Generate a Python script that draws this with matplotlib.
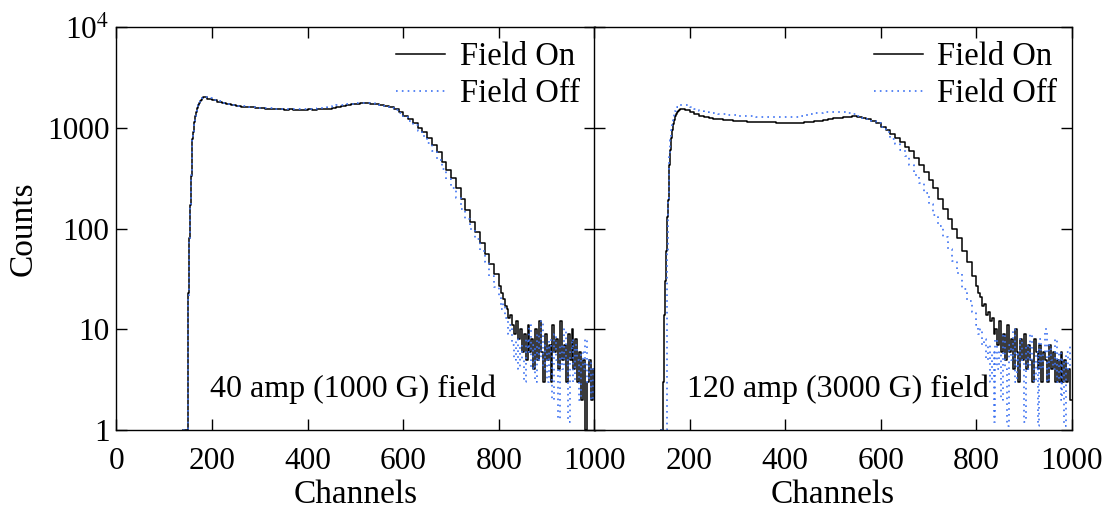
import numpy as np
import matplotlib
matplotlib.use("Agg")
import matplotlib.pyplot as plt
from matplotlib.ticker import FixedLocator, FixedFormatter, NullLocator

plt.rcParams['font.family'] = ['Liberation Serif', 'DejaVu Serif']
plt.rcParams['mathtext.fontset'] = 'stix'

# channel grid (bin starts), shared by every series
chan = np.concatenate([[140], np.arange(143, 160), np.arange(160, 180, 2),
                       np.arange(180, 800, 10), np.arange(800, 1001, 4)])

# ---- 40 amp panel ----
left_on = [1,
    1, 1, 1, 1, 1, 1, 1, 23, 45, 80, 113, 170, 240, 330, 450, 600, 780,
    900, 1150, 1300, 1450, 1580, 1680, 1760, 1840, 1900, 1960,
    2000, 1930, 1880, 1800, 1770, 1710, 1690, 1630, 1620, 1590,
    1590, 1560, 1565, 1540, 1545, 1520, 1530, 1510, 1525, 1500,
    1515, 1505, 1520, 1510, 1530, 1520, 1550, 1565, 1615, 1630,
    1685, 1710, 1735, 1750, 1755, 1740, 1725, 1700, 1650, 1600,
    1520, 1420, 1320, 1220, 1120, 1000, 900, 790, 680, 570,
    460, 380, 315, 250, 195, 152, 117, 92, 72, 56,
    44, 35,
    27, 23, 20, 17, 16, 13, 14, 11, 9, 12, 8, 10, 6, 9, 5, 11, 6, 8, 4, 10,
    5, 12, 6, 3, 9, 5, 7, 3, 11, 6, 8, 4, 12, 5, 7, 3, 9, 5, 10, 4,
    8, 3, 6, 2, 5, 1, 3, 5, 2, 4, 4]
left_off = [1,
    1, 1, 1, 1, 1, 1, 1, 20, 42, 78, 115, 175, 250, 340, 460, 610, 790,
    900, 1150, 1320, 1480, 1600, 1700, 1790, 1860, 1920, 1980,
    2020, 1960, 1900, 1830, 1780, 1730, 1700, 1660, 1630, 1610,
    1600, 1580, 1575, 1560, 1555, 1550, 1540, 1535, 1530, 1530,
    1525, 1530, 1540, 1545, 1555, 1570, 1600, 1640, 1670, 1690,
    1710, 1740, 1760, 1780, 1770, 1750, 1720, 1690, 1640, 1580,
    1500, 1400, 1290, 1180, 1060, 930, 820, 700, 590, 480,
    390, 310, 250, 200, 158, 125, 100, 78, 60, 46,
    34, 26,
    21, 16, 18, 13, 12, 9, 11, 7, 5, 8, 4, 7, 5, 3, 8, 6, 11, 4, 7, 3,
    9, 5, 12, 4, 7, 3, 8, 6, 2, 9, 5, 1.3, 7, 4, 10, 5, 1.2, 6, 8, 3,
    7, 5, 2, 6, 4, 8, 3, 5, 2, 4, 4]

# ---- 120 amp panel ----
right_on = [1,
    1, 2, 3, 8, 14, 22, 30, 36, 60, 100, 130, 160, 192, 260, 340, 430, 520,
    600, 800, 950, 1080, 1200, 1300, 1380, 1440, 1480, 1510,
    1520, 1510, 1440, 1360, 1300, 1270, 1250, 1230, 1215, 1200,
    1190, 1180, 1170, 1160, 1150, 1150, 1145, 1140, 1135, 1130,
    1125, 1125, 1120, 1125, 1125, 1125, 1140, 1150, 1165, 1180,
    1200, 1220, 1240, 1255, 1270, 1290, 1305, 1290, 1250, 1210,
    1160, 1110, 1020, 950, 870, 800, 730, 650, 585, 500,
    430, 360, 305, 250, 195, 155, 125, 100, 80, 60,
    46, 34,
    27, 23, 21, 17, 18, 14, 15, 12, 13, 9, 10, 7, 12, 6, 9, 5, 11, 6, 8, 4,
    10, 6, 3, 8, 5, 9, 4, 7, 5, 3, 8, 6, 4, 7, 3, 6, 5, 3, 7, 4,
    6, 3, 5, 3, 6, 3, 5, 3, 4, 2, 2]
right_off = [1,
    1, 1, 1, 1, 1, 1, 1, 1, 1, 15, 60, 120, 200, 290, 400, 520, 650,
    760, 950, 1120, 1260, 1380, 1470, 1540, 1590, 1630, 1660,
    1670, 1680, 1600, 1520, 1460, 1420, 1400, 1390, 1380, 1360,
    1340, 1330, 1320, 1310, 1300, 1295, 1290, 1285, 1280, 1275,
    1270, 1270, 1270, 1275, 1290, 1310, 1330, 1360, 1390, 1410,
    1420, 1430, 1440, 1445, 1430, 1400, 1360, 1310, 1260, 1220,
    1170, 1120, 1020, 900, 780, 690, 600, 530, 430, 340,
    280, 225, 175, 135, 105, 82, 63, 48, 36, 25,
    19, 15,
    11, 9, 10, 7, 8, 5, 7, 3, 6, 1.2, 8, 4, 6, 2, 9, 4, 1.1, 7, 5, 10,
    3, 6, 4, 8, 5, 1.2, 7, 4, 9, 5, 3, 6, 1.1, 8, 4, 6, 10, 3, 7, 5,
    4, 8, 3, 6, 2, 5, 1.1, 6, 4, 7, 7]

panels = [(left_on, left_off, "40 amp (1000 G) field"),
          (right_on, right_off, "120 amp (3000 G) field")]

fig = plt.figure(figsize=(11.04, 5.11), dpi=100)
ax1 = fig.add_axes([0.1055, 0.1585, 0.433, 0.7886])
ax2 = fig.add_axes([0.538, 0.1585, 0.433, 0.7886], sharey=ax1)

for ax, (on, off, label) in zip([ax1, ax2], panels):
    ax.step(chan, on, where='post', color='black', lw=1.1, label='Field On')
    ax.step(chan, off, where='post', color='#3d72f2', lw=1.2,
            ls=(0, (1, 2.5)), label='Field Off')
    ax.set_yscale('log')
    ax.set_ylim(1, 1e4)
    ax.set_xlim(0, 1000)
    ax.yaxis.set_major_locator(FixedLocator([1, 10, 100, 1000, 10000]))
    ax.yaxis.set_minor_locator(NullLocator())
    ax.set_xticks([0, 200, 400, 600, 800, 1000])
    ax.tick_params(direction='in', length=8, width=1, top=True, right=True,
                   labelsize=22.5)
    ax.tick_params(axis='x', pad=12)
    ax.tick_params(axis='y', pad=5)
    ax.set_xlabel('Channels', fontsize=24, labelpad=3)
    ax.text(0.195, 0.1, label, transform=ax.transAxes, fontsize=23,
            va='center', ha='left')
    ax.legend(loc='upper right', frameon=False, fontsize=23.5,
              handlelength=1.5, handletextpad=0.45, borderaxespad=0.05,
              labelspacing=0.2)
    for sp in ax.spines.values():
        sp.set_linewidth(1.0)

ax1.yaxis.set_major_formatter(FixedFormatter(['1', '10', '100', '1000', r'10$^{4}$']))
ax1.set_ylabel('Counts', fontsize=24, labelpad=6)
ax2.tick_params(labelleft=False)
ax2.set_xticks([0, 200, 400, 600, 800, 1000])
ax2.set_xticklabels(['', '200', '400', '600', '800', '1000'])

fig.savefig('out.png', dpi=100)
